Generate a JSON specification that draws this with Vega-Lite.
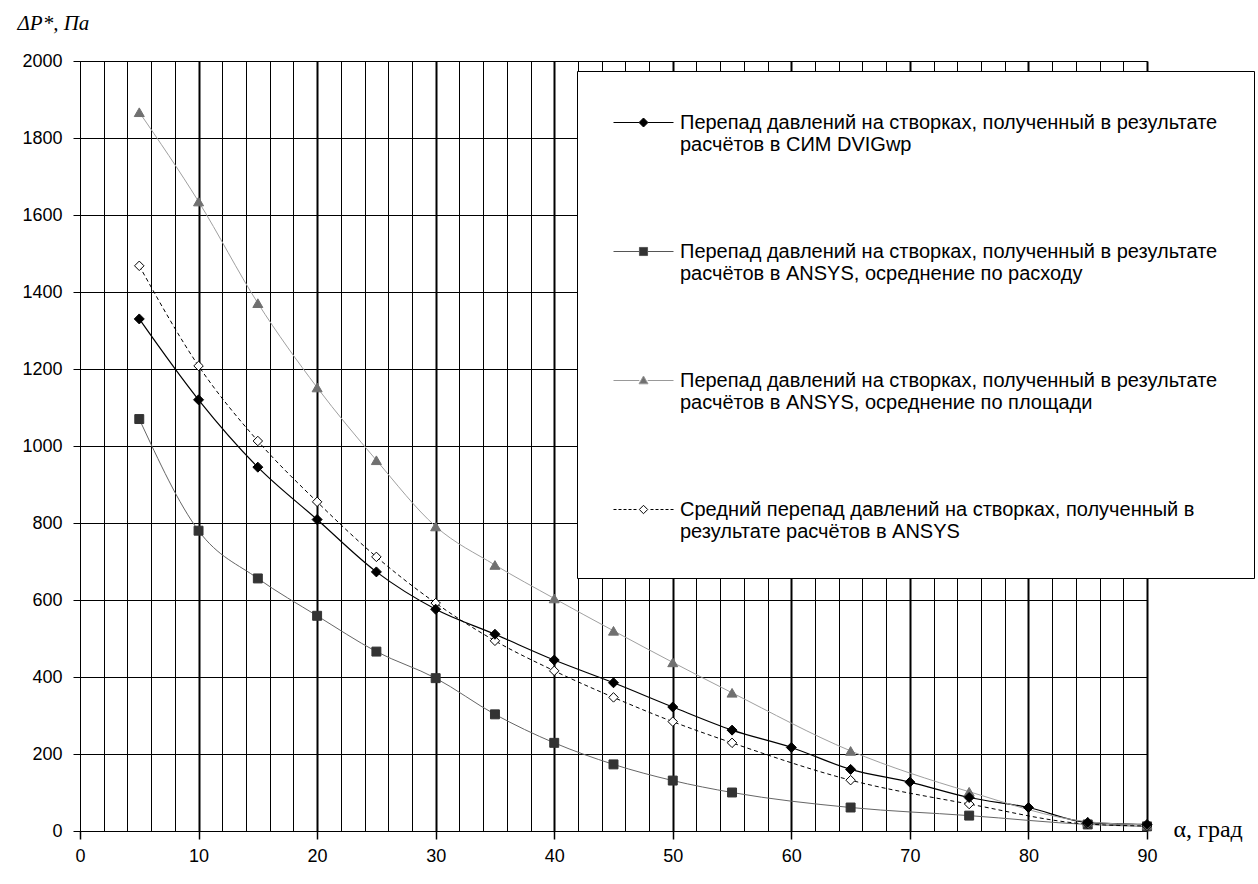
{
  "$schema": "https://vega.github.io/schema/vega-lite/v6.json",
  "width": 1067,
  "height": 770,
  "autosize": {"type": "none"},
  "padding": {"left": 80, "top": 61, "right": 111, "bottom": 53},
  "background": "white",
  "config": {
    "view": {"stroke": null},
    "font": "Liberation Sans",
    "axis": {
      "domainColor": "#000",
      "tickColor": "#000",
      "labelColor": "#000",
      "labelFont": "Liberation Sans",
      "labelFontSize": 18,
      "gridColor": "#000",
      "gridOpacity": 1,
      "labelFlush": false
    }
  },
  "datasets": {
    "d": [
      {"id": 1, "series": "Перепад давлений на створках, полученный в результате|расчётов в СИМ DVIGwp", "alpha": 5, "dp": 1330},
      {"id": 1, "series": "Перепад давлений на створках, полученный в результате|расчётов в СИМ DVIGwp", "alpha": 10, "dp": 1120},
      {"id": 1, "series": "Перепад давлений на створках, полученный в результате|расчётов в СИМ DVIGwp", "alpha": 15, "dp": 945},
      {"id": 1, "series": "Перепад давлений на створках, полученный в результате|расчётов в СИМ DVIGwp", "alpha": 20, "dp": 809},
      {"id": 1, "series": "Перепад давлений на створках, полученный в результате|расчётов в СИМ DVIGwp", "alpha": 25, "dp": 673},
      {"id": 1, "series": "Перепад давлений на створках, полученный в результате|расчётов в СИМ DVIGwp", "alpha": 30, "dp": 576},
      {"id": 1, "series": "Перепад давлений на створках, полученный в результате|расчётов в СИМ DVIGwp", "alpha": 35, "dp": 511},
      {"id": 1, "series": "Перепад давлений на створках, полученный в результате|расчётов в СИМ DVIGwp", "alpha": 40, "dp": 444},
      {"id": 1, "series": "Перепад давлений на створках, полученный в результате|расчётов в СИМ DVIGwp", "alpha": 45, "dp": 385},
      {"id": 1, "series": "Перепад давлений на створках, полученный в результате|расчётов в СИМ DVIGwp", "alpha": 50, "dp": 322},
      {"id": 1, "series": "Перепад давлений на створках, полученный в результате|расчётов в СИМ DVIGwp", "alpha": 55, "dp": 262},
      {"id": 1, "series": "Перепад давлений на створках, полученный в результате|расчётов в СИМ DVIGwp", "alpha": 60, "dp": 217},
      {"id": 1, "series": "Перепад давлений на створках, полученный в результате|расчётов в СИМ DVIGwp", "alpha": 65, "dp": 160},
      {"id": 1, "series": "Перепад давлений на створках, полученный в результате|расчётов в СИМ DVIGwp", "alpha": 70, "dp": 127},
      {"id": 1, "series": "Перепад давлений на створках, полученный в результате|расчётов в СИМ DVIGwp", "alpha": 75, "dp": 87},
      {"id": 1, "series": "Перепад давлений на створках, полученный в результате|расчётов в СИМ DVIGwp", "alpha": 80, "dp": 61},
      {"id": 1, "series": "Перепад давлений на створках, полученный в результате|расчётов в СИМ DVIGwp", "alpha": 85, "dp": 22},
      {"id": 1, "series": "Перепад давлений на створках, полученный в результате|расчётов в СИМ DVIGwp", "alpha": 90, "dp": 17},
      {"id": 2, "series": "Перепад давлений на створках, полученный в результате|расчётов в ANSYS, осреднение по расходу", "alpha": 5, "dp": 1070},
      {"id": 2, "series": "Перепад давлений на створках, полученный в результате|расчётов в ANSYS, осреднение по расходу", "alpha": 10, "dp": 780},
      {"id": 2, "series": "Перепад давлений на створках, полученный в результате|расчётов в ANSYS, осреднение по расходу", "alpha": 15, "dp": 656},
      {"id": 2, "series": "Перепад давлений на створках, полученный в результате|расчётов в ANSYS, осреднение по расходу", "alpha": 20, "dp": 559},
      {"id": 2, "series": "Перепад давлений на створках, полученный в результате|расчётов в ANSYS, осреднение по расходу", "alpha": 25, "dp": 466},
      {"id": 2, "series": "Перепад давлений на створках, полученный в результате|расчётов в ANSYS, осреднение по расходу", "alpha": 30, "dp": 397},
      {"id": 2, "series": "Перепад давлений на створках, полученный в результате|расчётов в ANSYS, осреднение по расходу", "alpha": 35, "dp": 303},
      {"id": 2, "series": "Перепад давлений на створках, полученный в результате|расчётов в ANSYS, осреднение по расходу", "alpha": 40, "dp": 229},
      {"id": 2, "series": "Перепад давлений на створках, полученный в результате|расчётов в ANSYS, осреднение по расходу", "alpha": 45, "dp": 173},
      {"id": 2, "series": "Перепад давлений на створках, полученный в результате|расчётов в ANSYS, осреднение по расходу", "alpha": 50, "dp": 131},
      {"id": 2, "series": "Перепад давлений на створках, полученный в результате|расчётов в ANSYS, осреднение по расходу", "alpha": 55, "dp": 100},
      {"id": 2, "series": "Перепад давлений на створках, полученный в результате|расчётов в ANSYS, осреднение по расходу", "alpha": 65, "dp": 61},
      {"id": 2, "series": "Перепад давлений на створках, полученный в результате|расчётов в ANSYS, осреднение по расходу", "alpha": 75, "dp": 40},
      {"id": 2, "series": "Перепад давлений на створках, полученный в результате|расчётов в ANSYS, осреднение по расходу", "alpha": 85, "dp": 17},
      {"id": 2, "series": "Перепад давлений на створках, полученный в результате|расчётов в ANSYS, осреднение по расходу", "alpha": 90, "dp": 12},
      {"id": 3, "series": "Перепад давлений на створках, полученный в результате|расчётов в ANSYS, осреднение по площади", "alpha": 5, "dp": 1867},
      {"id": 3, "series": "Перепад давлений на створках, полученный в результате|расчётов в ANSYS, осреднение по площади", "alpha": 10, "dp": 1635},
      {"id": 3, "series": "Перепад давлений на створках, полученный в результате|расчётов в ANSYS, осреднение по площади", "alpha": 15, "dp": 1371},
      {"id": 3, "series": "Перепад давлений на створках, полученный в результате|расчётов в ANSYS, осреднение по площади", "alpha": 20, "dp": 1152},
      {"id": 3, "series": "Перепад давлений на створках, полученный в результате|расчётов в ANSYS, осреднение по площади", "alpha": 25, "dp": 963},
      {"id": 3, "series": "Перепад давлений на створках, полученный в результате|расчётов в ANSYS, осреднение по площади", "alpha": 30, "dp": 791},
      {"id": 3, "series": "Перепад давлений на створках, полученный в результате|расчётов в ANSYS, осреднение по площади", "alpha": 35, "dp": 691},
      {"id": 3, "series": "Перепад давлений на створках, полученный в результате|расчётов в ANSYS, осреднение по площади", "alpha": 40, "dp": 604},
      {"id": 3, "series": "Перепад давлений на створках, полученный в результате|расчётов в ANSYS, осреднение по площади", "alpha": 45, "dp": 520},
      {"id": 3, "series": "Перепад давлений на створках, полученный в результате|расчётов в ANSYS, осреднение по площади", "alpha": 50, "dp": 438},
      {"id": 3, "series": "Перепад давлений на створках, полученный в результате|расчётов в ANSYS, осреднение по площади", "alpha": 55, "dp": 359},
      {"id": 3, "series": "Перепад давлений на створках, полученный в результате|расчётов в ANSYS, осреднение по площади", "alpha": 65, "dp": 208},
      {"id": 3, "series": "Перепад давлений на створках, полученный в результате|расчётов в ANSYS, осреднение по площади", "alpha": 75, "dp": 102},
      {"id": 3, "series": "Перепад давлений на створках, полученный в результате|расчётов в ANSYS, осреднение по площади", "alpha": 85, "dp": 24},
      {"id": 3, "series": "Перепад давлений на створках, полученный в результате|расчётов в ANSYS, осреднение по площади", "alpha": 90, "dp": 16},
      {"id": 4, "series": "Средний перепад давлений на створках, полученный в|результате расчётов в ANSYS", "alpha": 5, "dp": 1468},
      {"id": 4, "series": "Средний перепад давлений на створках, полученный в|результате расчётов в ANSYS", "alpha": 10, "dp": 1208},
      {"id": 4, "series": "Средний перепад давлений на створках, полученный в|результате расчётов в ANSYS", "alpha": 15, "dp": 1013},
      {"id": 4, "series": "Средний перепад давлений на створках, полученный в|результате расчётов в ANSYS", "alpha": 20, "dp": 855},
      {"id": 4, "series": "Средний перепад давлений на створках, полученный в|результате расчётов в ANSYS", "alpha": 25, "dp": 712},
      {"id": 4, "series": "Средний перепад давлений на створках, полученный в|результате расчётов в ANSYS", "alpha": 30, "dp": 592},
      {"id": 4, "series": "Средний перепад давлений на створках, полученный в|результате расчётов в ANSYS", "alpha": 35, "dp": 494},
      {"id": 4, "series": "Средний перепад давлений на створках, полученный в|результате расчётов в ANSYS", "alpha": 40, "dp": 416},
      {"id": 4, "series": "Средний перепад давлений на створках, полученный в|результате расчётов в ANSYS", "alpha": 45, "dp": 347},
      {"id": 4, "series": "Средний перепад давлений на створках, полученный в|результате расчётов в ANSYS", "alpha": 50, "dp": 284},
      {"id": 4, "series": "Средний перепад давлений на створках, полученный в|результате расчётов в ANSYS", "alpha": 55, "dp": 229},
      {"id": 4, "series": "Средний перепад давлений на створках, полученный в|результате расчётов в ANSYS", "alpha": 65, "dp": 132},
      {"id": 4, "series": "Средний перепад давлений на створках, полученный в|результате расчётов в ANSYS", "alpha": 75, "dp": 70},
      {"id": 4, "series": "Средний перепад давлений на створках, полученный в|результате расчётов в ANSYS", "alpha": 85, "dp": 18},
      {"id": 4, "series": "Средний перепад давлений на створках, полученный в|результате расчётов в ANSYS", "alpha": 90, "dp": 13}
    ]
  },
  "data": {"name": "d"},
  "resolve": {"axis": {"x": "independent"}},
  "layer": [
    {
      "transform": [{"filter": "datum.id == 1"}],
      "mark": {"type": "line", "color": "#000", "strokeWidth": 1.2, "interpolate": "monotone"},
      "encoding": {
        "x": {
          "field": "alpha", "type": "quantitative",
          "scale": {"domain": [0, 90], "nice": false, "zero": false},
          "axis": {
            "orient": "top", "grid": true, "gridWidth": 1, "labels": false, "ticks": false, "domain": false, "title": null,
            "values": [0,2,4,6,8,10,12,14,16,18,20,22,24,26,28,30,32,34,36,38,40,42,44,46,48,50,52,54,56,58,60,62,64,66,68,70,72,74,76,78,80,82,84,86,88,90]
          }
        },
        "y": {
          "field": "dp", "type": "quantitative",
          "scale": {"domain": [0, 2000], "nice": false},
          "axis": {
            "values": [0,200,400,600,800,1000,1200,1400,1600,1800,2000], "format": "d",
            "grid": true, "gridWidth": 1, "tickSize": 7, "labelPadding": 11, "domain": true,
            "title": "ΔP*,  Па", "titleAngle": 0, "titleX": -63, "titleY": -32, "titleAlign": "left", "titleBaseline": "alphabetic",
            "titleFont": "Liberation Serif", "titleFontStyle": "italic", "titleFontWeight": "normal", "titleFontSize": 21, "titleColor": "#000"
          }
        }
      }
    },
    {
      "transform": [{"filter": "datum.id == 2"}],
      "mark": {"type": "line", "color": "#666", "strokeWidth": 1, "interpolate": "monotone"},
      "encoding": {
        "x": {
          "field": "alpha", "type": "quantitative",
          "axis": {
            "orient": "bottom", "grid": true,
            "gridWidth": {"condition": {"test": "datum.value == 0", "value": 1}, "value": 2},
            "values": [0,10,20,30,40,50,60,70,80,90],
            "tickSize": 8, "tickWidth": 1.5, "labelPadding": 8, "domain": true,
            "title": "α, град", "titleX": 1093, "titleY": -2, "titleAlign": "left", "titleBaseline": "middle",
            "titleFont": "Liberation Serif", "titleFontWeight": "normal", "titleFontSize": 24, "titleColor": "#000"
          }
        },
        "y": {"field": "dp", "type": "quantitative"}
      }
    },
    {
      "transform": [{"filter": "datum.id == 3"}],
      "mark": {"type": "line", "color": "#a0a0a0", "strokeWidth": 1, "interpolate": "monotone"},
      "encoding": {"x": {"field": "alpha", "type": "quantitative", "axis": null}, "y": {"field": "dp", "type": "quantitative"}}
    },
    {
      "transform": [{"filter": "datum.id == 4"}],
      "mark": {"type": "line", "color": "#000", "strokeWidth": 1, "strokeDash": [4, 3], "interpolate": "monotone"},
      "encoding": {"x": {"field": "alpha", "type": "quantitative", "axis": null}, "y": {"field": "dp", "type": "quantitative"}}
    },
    {
      "transform": [{"filter": "datum.id == 2"}],
      "mark": {"type": "point", "shape": "square", "filled": true, "fill": "#333", "stroke": "#333", "strokeWidth": 1, "size": 80, "opacity": 1},
      "encoding": {"x": {"field": "alpha", "type": "quantitative", "axis": null}, "y": {"field": "dp", "type": "quantitative"}}
    },
    {
      "transform": [{"filter": "datum.id == 3"}],
      "mark": {"type": "point", "shape": "triangle-up", "filled": true, "fill": "#707070", "stroke": "#707070", "strokeWidth": 1, "size": 100, "opacity": 1},
      "encoding": {"x": {"field": "alpha", "type": "quantitative", "axis": null}, "y": {"field": "dp", "type": "quantitative"}}
    },
    {
      "transform": [{"filter": "datum.id == 4"}],
      "mark": {"type": "point", "shape": "diamond", "filled": true, "fill": "#fff", "stroke": "#000", "strokeWidth": 1, "size": 90, "opacity": 1},
      "encoding": {"x": {"field": "alpha", "type": "quantitative", "axis": null}, "y": {"field": "dp", "type": "quantitative"}}
    },
    {
      "transform": [{"filter": "datum.id == 1"}],
      "mark": {"type": "point", "shape": "diamond", "filled": true, "fill": "#000", "stroke": "#000", "strokeWidth": 1, "size": 100, "opacity": 1},
      "encoding": {"x": {"field": "alpha", "type": "quantitative", "axis": null}, "y": {"field": "dp", "type": "quantitative"}}
    },
    {
      "mark": {"type": "point", "opacity": 0, "strokeWidth": 1},
      "encoding": {
        "x": {"field": "alpha", "type": "quantitative", "axis": null},
        "y": {"field": "dp", "type": "quantitative"},
        "shape": {
          "field": "series", "type": "nominal",
          "scale": {
            "domain": [
              "Перепад давлений на створках, полученный в результате|расчётов в СИМ DVIGwp",
              "Перепад давлений на створках, полученный в результате|расчётов в ANSYS, осреднение по расходу",
              "Перепад давлений на створках, полученный в результате|расчётов в ANSYS, осреднение по площади",
              "Средний перепад давлений на створках, полученный в|результате расчётов в ANSYS"
            ],
            "range": [
              "M-2,0H-0.3M0.3,0H2M0,-0.3L0.3,0L0,0.3L-0.3,0Z",
              "M-2,0H-0.27M0.27,0H2M-0.27,-0.27H0.27V0.27H-0.27Z",
              "M-2,0H-0.28M0.28,0H2M0,-0.3L0.3,0.22L-0.3,0.22Z",
              "M-2,0h0.2M-1.667,0h0.2M-1.333,0h0.2M-1,0h0.2M-0.667,0h0.2M0.467,0h0.2M0.8,0h0.2M1.133,0h0.2M1.467,0h0.2M1.8,0h0.2M0,-0.28L0.28,0L0,0.28L-0.28,0Z"
            ]
          },
          "legend": {
            "orient": "none", "legendX": 497, "legendY": 10, "title": null,
            "direction": "vertical", "columns": 1,
            "padding": 36, "fillColor": "#fff", "strokeColor": "#000",
            "symbolSize": 900, "symbolOffset": 15, "symbolOpacity": 1, "symbolStrokeWidth": 1,
            "labelFont": "Liberation Sans", "labelFontSize": 20, "labelColor": "#000", "labelLimit": 900,
            "labelOffset": 21, "rowPadding": 81, "labelExpr": "split(datum.label, '|')",
            "encode": {"labels": {"update": {"lineHeight": {"value": 25}}}}
          }
        },
        "fill": {
          "field": "series", "type": "nominal",
          "scale": {
            "domain": [
              "Перепад давлений на створках, полученный в результате|расчётов в СИМ DVIGwp",
              "Перепад давлений на створках, полученный в результате|расчётов в ANSYS, осреднение по расходу",
              "Перепад давлений на створках, полученный в результате|расчётов в ANSYS, осреднение по площади",
              "Средний перепад давлений на створках, полученный в|результате расчётов в ANSYS"
            ],
            "range": ["#000", "#333", "#707070", "#fff"]
          }
        },
        "stroke": {
          "field": "series", "type": "nominal",
          "scale": {
            "domain": [
              "Перепад давлений на створках, полученный в результате|расчётов в СИМ DVIGwp",
              "Перепад давлений на створках, полученный в результате|расчётов в ANSYS, осреднение по расходу",
              "Перепад давлений на створках, полученный в результате|расчётов в ANSYS, осреднение по площади",
              "Средний перепад давлений на створках, полученный в|результате расчётов в ANSYS"
            ],
            "range": ["#000", "#555", "#999", "#000"]
          }
        }
      }
    }
  ]
}
